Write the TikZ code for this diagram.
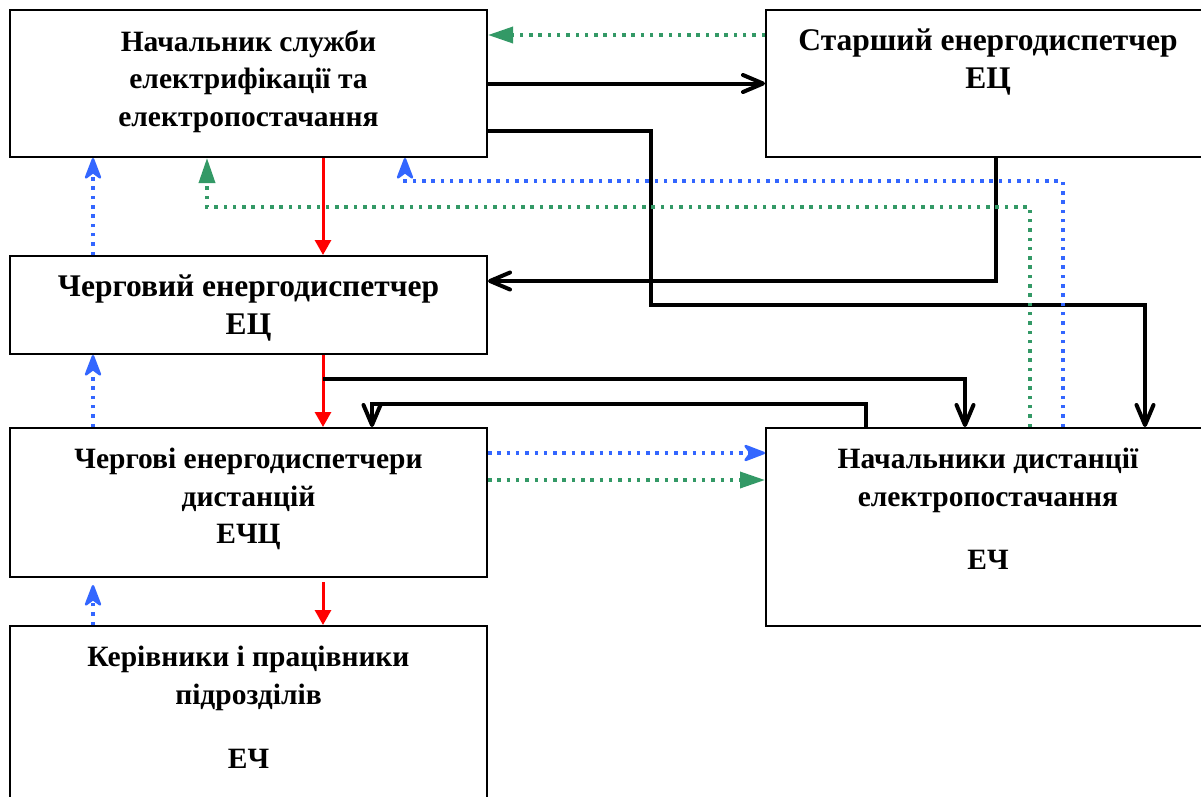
\documentclass[tikz,border=0pt]{standalone}
\usepackage{fontspec}
\setmainfont{Liberation Serif}
\usetikzlibrary{arrows.meta,positioning}
\definecolor{flowred}{RGB}{255,0,0}
\definecolor{repblue}{RGB}{51,102,255}
\definecolor{infogreen}{RGB}{51,153,102}

\begin{document}
\begin{tikzpicture}[x=1pt,y=-1pt,
    box/.style={draw, line width=2pt, inner sep=0pt},
    boxtext/.style={anchor=north, align=center, inner sep=0pt, font=\fontsize{#1}{37.5}\selectfont\bfseries},
    boxtext/.default=29.5,
    cmd/.style={line width=4pt, -{Straight Barb[length=20pt,width=17pt,round]}},
    flow/.style={flowred, line width=3pt, -{Triangle[length=15pt,width=16pt]}},
    report/.style={repblue, line width=3.5pt, dash pattern=on 3.5pt off 5.8pt, -{Stealth[length=25pt,width=19pt,inset=7pt,line width=2.5pt,round]}},
    info/.style={infogreen, line width=3.5pt, dash pattern=on 3.5pt off 5.8pt, -{Triangle[length=25pt,width=16pt]}}]
	\useasboundingbox (0,0) rectangle (1201,796);

	% boxes
	\node[box, minimum width=477pt, minimum height=147pt] (chief) at (248.5, 83.5) {};
	\node[box, minimum width=444pt, minimum height=147pt] (senior) at (988, 83.5) {};
	\node[box, minimum width=477pt, minimum height=98pt] (duty) at (248.5, 305) {};
	\node[box, minimum width=477pt, minimum height=149pt] (dutyd) at (248.5, 502.5) {};
	\node[box, minimum width=477pt, minimum height=184pt] (staff) at (248.5, 718) {};
	\node[box, minimum width=444pt, minimum height=198pt] (heads) at (988, 527) {};

	% texts
	\node[boxtext] (chiefT) at ([yshift=-21pt]chief.north) {Начальник служби\\електрифікації та\\електропостачання};
	\node[boxtext=31.5] (seniorT) at ([yshift=-20pt]senior.north) {Старший енергодиспетчер\\ЕЦ};
	\node[boxtext=31.5] (dutyT) at ([yshift=-20pt]duty.north) {Черговий енергодиспетчер\\ЕЦ};
	\node[boxtext] (dutydT) at ([yshift=-21pt]dutyd.north) {Чергові енергодиспетчери\\дистанцій\\ЕЧЦ};
	\node[boxtext] (staffT) at ([yshift=-21pt]staff.north) {Керівники і працівники\\підрозділів\\[27pt]ЕЧ};
	\node[boxtext] (headsT) at ([yshift=-21pt]heads.north) {Начальники дистанції\\електропостачання\\[26pt]ЕЧ};

	\coordinate (split) at (323, 379);

	% red
	\draw[flow] (chief.south -| 323,0) to (duty.north -| 323,0);
	\draw[flow] (duty.south -| 323,0) to (dutyd.north -| 323,0);
	\draw[flow, shorten <=4pt] (dutyd.south -| 323,0) to (staff.north -| 323,0);

	% black
	\draw[cmd] (chief.east) to (senior.west);
	\draw[cmd] (chief.east |- 0,131) -| (651,305) -| (heads.north -| 1145,0);
	\draw[cmd] (senior.south -| 996,0) |- (duty.east |- 0,281);
	\draw[cmd] (split) -| (heads.north -| 965,0);
	\draw[cmd] (heads.north -| 866,0) |- (372,404) -- (dutyd.north -| 372,0);

	% blue
	\draw[report] (duty.north -| 93,0) to (chief.south -| 93,0);
	\draw[report] (dutyd.north -| 93,0) to (duty.south -| 93,0);
	\draw[report, shorten >=7pt] (staff.north -| 93,0) to (dutyd.south -| 93,0);
	\draw[report] (heads.north -| 1063,0) |- (405,181) -- (chief.south -| 405,0);
	\draw[report] (dutyd.east |- 0,453) to (heads.west |- 0,453);

	% green
	\draw[info] (senior.west |- 0,35) to (chief.east |- 0,35);
	\draw[info] (heads.north -| 1030,0) |- (207,207) -- (chief.south -| 207,0);
	\draw[info] (dutyd.east |- 0,480) to (heads.west |- 0,480);
\end{tikzpicture}
\end{document}
